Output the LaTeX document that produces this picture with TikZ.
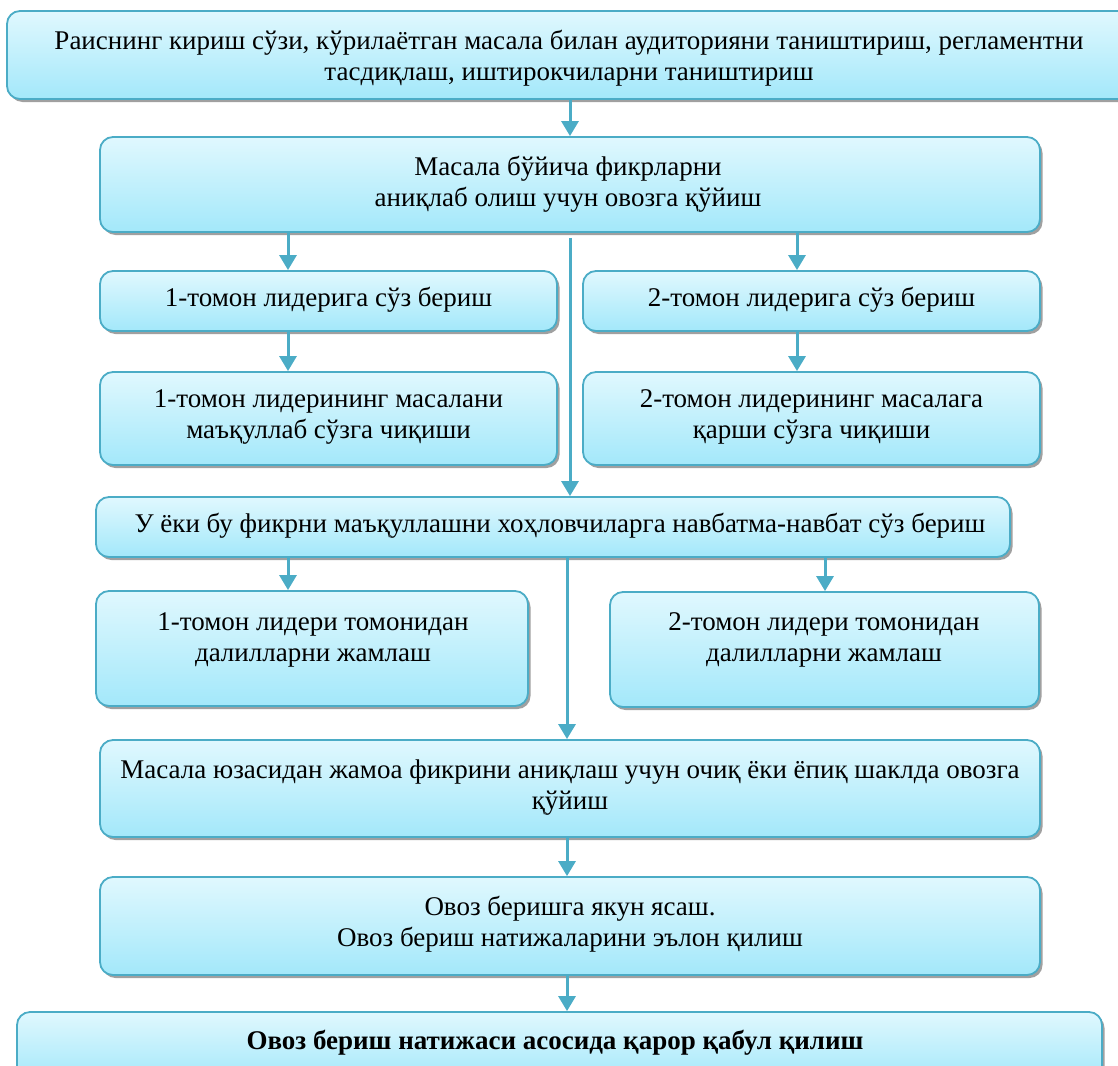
\documentclass[tikz,border=0pt]{standalone}
\usepackage{fontspec}
\setmainfont{Liberation Serif}
\usetikzlibrary{shadows,arrows.meta}
\definecolor{bord}{HTML}{4BACC6}
\definecolor{topc}{HTML}{E0F8FE}
\definecolor{botc}{HTML}{A3E8FA}
\definecolor{shad}{HTML}{A0A0A0}
\begin{document}
\begin{tikzpicture}[x=1pt,y=-1pt,
  box/.style={draw=bord, line width=1.8pt, rounded corners=13pt,
    top color=topc, bottom color=botc,
    drop shadow={shadow xshift=2.5pt, shadow yshift=-3pt, fill=shad, opacity=1},
    inner sep=0pt, anchor=center},
  lbl/.style={font=\fontsize{27}{31}\selectfont, align=center, inner sep=0pt, anchor=center},
  arr/.style={draw=bord, line width=3pt, -{Triangle[width=17pt,length=15pt]}}]
\useasboundingbox (0,0) rectangle (1118,1065);
\clip (0,0) rectangle (1118,1065);
% boxes
\node[box, minimum width=1126pt, minimum height=88pt] (b1) at (570,55) {};
\node[box, minimum width=940pt, minimum height=95pt] (b2) at (570,184.5) {};
\node[box, minimum width=457pt, minimum height=60pt] (b3a) at (328.5,301) {};
\node[box, minimum width=457pt, minimum height=60pt] (b3b) at (811.5,301) {};
\node[box, minimum width=457pt, minimum height=93pt] (b4a) at (328.5,418.5) {};
\node[box, minimum width=457pt, minimum height=93pt] (b4b) at (811.5,418.5) {};
\node[box, minimum width=914pt, minimum height=60pt] (b5) at (553,527) {};
\node[box, minimum width=432pt, minimum height=115pt] (b6a) at (312,648.5) {};
\node[box, minimum width=429pt, minimum height=115pt] (b6b) at (824.5,649.5) {};
\node[box, minimum width=940pt, minimum height=97pt] (b7) at (570,788.5) {};
\node[box, minimum width=940pt, minimum height=98pt] (b8) at (570,926) {};
\node[box, minimum width=1085pt, minimum height=70pt] (b9) at (559.5,1047) {};
% labels
\node[lbl] (t1) at (569,58) {Раиснинг кириш сўзи, кўрилаётган масала билан аудиторияни таништириш, регламентни\\тасдиқлаш, иштирокчиларни таништириш};
\node[lbl] (t2) at (568,184) {Масала бўйича фикрларни\\аниқлаб олиш учун овозга қўйиш};
\node[lbl] (t3a) at (328.5,300) {1-томон лидерига сўз бериш};
\node[lbl] (t3b) at (811.5,300) {2-томон лидерига сўз бериш};
\node[lbl] (t4a) at (328.5,417) {1-томон лидерининг масалани\\маъқуллаб сўзга чиқиши};
\node[lbl] (t4b) at (811.5,417) {2-томон лидерининг масалага\\қарши сўзга чиқиши};
\node[lbl] (t5) at (560,526) {У ёки бу фикрни маъқуллашни хоҳловчиларга навбатма-навбат сўз бериш};
\node[lbl] (t6a) at (313,640) {1-томон лидери томонидан\\далилларни жамлаш};
\node[lbl] (t6b) at (824,640) {2-томон лидери томонидан\\далилларни жамлаш};
\node[lbl] (t7) at (570,788) {Масала юзасидан жамоа фикрини аниқлаш учун очиқ ёки ёпиқ шаклда овозга\\қўйиш};
\node[lbl] (t8) at (570,924) {Овоз беришга якун ясаш.\\Овоз бериш натижаларини эълон қилиш};
\node[lbl, font=\fontsize{27}{31}\selectfont\bfseries] (t9) at (555,1043) {Овоз бериш натижаси асосида қарор қабул қилиш};
% x positions
\coordinate (xL) at (288,0);
\coordinate (xM) at (570,0);
\coordinate (xR) at (797,0);
\coordinate (xN) at (567,0);
\coordinate (xR2) at (825,0);
% connectors
\draw[arr] (b1.south -| xM) -- (b2.north -| xM);
\draw[arr] (b2.south -| xL) -- (b3a.north -| xL);
\draw[arr] (b2.south -| xR) -- (b3b.north -| xR);
\draw[arr] (b3a.south -| xL) -- (b4a.north -| xL);
\draw[arr] (b3b.south -| xR) -- (b4b.north -| xR);
\draw[arr] ([yshift=-5pt]b2.south) -- (b2.south |- b5.north);
\draw[arr] (b5.south -| xL) -- (b6a.north -| xL);
\draw[arr] (b5.south -| xR2) -- (b6b.north -| xR2);
\draw[arr] (b5.south -| xN) -- (b7.north -| xN);
\draw[arr] (b7.south -| xN) -- (b8.north -| xN);
\draw[arr] (b8.south -| xN) -- (b9.north -| xN);
\end{tikzpicture}
\end{document}
